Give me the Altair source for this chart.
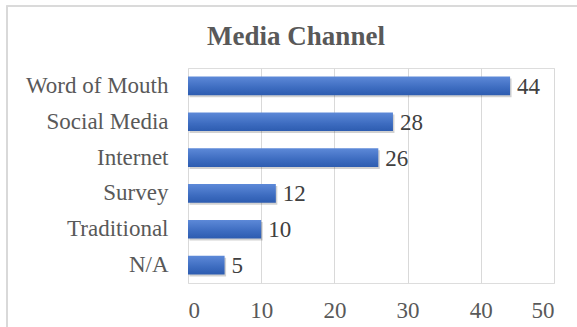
import altair as alt
import pandas as pd

categories = ["Word of Mouth", "Social Media", "Internet", "Survey", "Traditional", "N/A"]
values = [44, 28, 26, 12, 10, 5]
x_ticks = [0, 10, 20, 30, 40, 50]
title_text = "Media Channel"

df = pd.DataFrame({"channel": categories, "count": values})

FONT = "Liberation Serif"
GREY = "#595959"

y_enc = alt.Y("channel:N", sort=categories, title=None,
              scale=alt.Scale(paddingInner=0.48, paddingOuter=0.24),
              axis=alt.Axis(labelFont=FONT, labelFontSize=23, labelColor=GREY,
                            labelPadding=20, ticks=False, domain=False, grid=False))
x_enc = alt.X("count:Q", title=None,
              scale=alt.Scale(domain=[0, 50], nice=False),
              axis=alt.Axis(values=x_ticks, labelFont=FONT, labelFontSize=23,
                            labelColor=GREY, labelPadding=16, ticks=False,
                            domain=False, grid=True, gridColor="#d9d9d9"))

shadow = alt.Chart(df).mark_bar(color="#000000", opacity=0.18, yOffset=2, xOffset=1.5).encode(
    y=y_enc, x=x_enc)

bars = alt.Chart(df).mark_bar(
    color=alt.Gradient(
        gradient="linear",
        stops=[alt.GradientStop(color="#5d89d8", offset=0),
               alt.GradientStop(color="#3d6cc0", offset=0.6),
               alt.GradientStop(color="#2d5cb0", offset=1)],
        x1=0, x2=0, y1=0, y2=1),
).encode(y=y_enc, x=x_enc)

labels = alt.Chart(df).mark_text(
    align="left", baseline="middle", dx=7, dy=1, font=FONT, fontSize=23, color="#404040"
).encode(y=alt.Y("channel:N", sort=categories), x="count:Q", text="count:Q")

border = alt.Chart(df).mark_rect(fill=None, stroke="#d9d9d9", strokeWidth=1.2).encode(
    x=alt.value(-181), x2=alt.value(400), y=alt.value(-62), y2=alt.value(280))

title = alt.Chart(pd.DataFrame({"t": [title_text]})).mark_text(
    font=FONT, fontSize=27, fontWeight="bold", color=GREY, align="center", baseline="middle"
).encode(x=alt.value(108), y=alt.value(-31), text="t:N")

chart = alt.layer(border, shadow, bars, labels, title).properties(
    width=366, height=215,
    padding={"left": 188, "top": 68, "right": 23, "bottom": 44},
    autosize=alt.AutoSizeParams(type="none"),
).configure_view(stroke=None).configure(background="white")

chart.save("out.html", embed_options={"renderer": "svg", "actions": False})
